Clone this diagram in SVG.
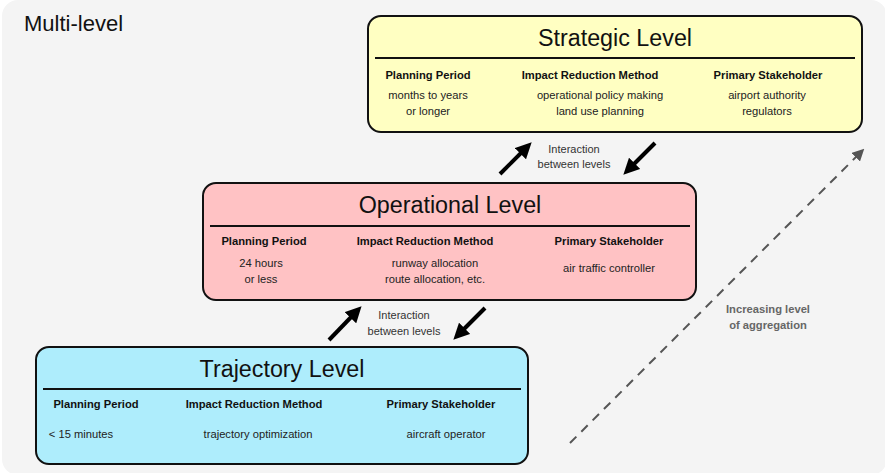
<svg xmlns="http://www.w3.org/2000/svg" width="885" height="473" viewBox="0 0 885 473">
<defs>
<style>
text{font-family:"Liberation Sans",Arial,sans-serif;fill:#111;text-anchor:middle}
.box{stroke:#111;stroke-width:2}
.title{font-size:23.3px}
.hd{font-size:11.2px;font-weight:bold}
.val{font-size:11.2px;fill:#222}
.sm{font-size:11px;fill:#333}
.sep{stroke:#111;stroke-width:2}
.arr{stroke:#000;stroke-width:4;fill:none;marker-end:url(#ah)}
</style>
<marker id="ah" markerWidth="4" markerHeight="4" refX="2" refY="2" orient="auto" markerUnits="strokeWidth" viewBox="0 0 4 4">
<path d="M0,0 L4,2 L0,4 z" fill="#000"/>
</marker>
<marker id="ahd" markerWidth="6" markerHeight="6" refX="3" refY="3" orient="auto" markerUnits="strokeWidth" viewBox="0 0 6 6">
<path d="M0,0 L6,3 L0,6 z" fill="#555"/>
</marker>
</defs>
<rect x="2" y="0" width="885" height="475" rx="16" fill="#f4f4f4"/>
<text x="24" y="31" style="font-size:22px;text-anchor:start">Multi-level</text>

<g id="strategic">
<rect class="box" x="368" y="16" width="494" height="116" rx="13" fill="#ffffc2"/>
<text class="title" x="615" y="46">Strategic Level</text>
<line class="sep" x1="375" y1="58" x2="855" y2="58"/>
<text class="hd" x="428" y="79">Planning Period</text>
<text class="hd" x="590" y="79">Impact Reduction Method</text>
<text class="hd" x="768" y="79">Primary Stakeholder</text>
<text class="val" x="428" y="99">months to years</text>
<text class="val" x="428" y="115">or longer</text>
<text class="val" x="600" y="99">operational policy making</text>
<text class="val" x="600" y="115">land use planning</text>
<text class="val" x="767" y="99">airport authority</text>
<text class="val" x="767" y="115">regulators</text>
</g>

<g id="operational">
<rect class="box" x="203" y="183" width="493" height="117" rx="13" fill="#ffc2c4"/>
<text class="title" x="450" y="213">Operational Level</text>
<line class="sep" x1="210" y1="226" x2="690" y2="226"/>
<text class="hd" x="264" y="245">Planning Period</text>
<text class="hd" x="425" y="245">Impact Reduction Method</text>
<text class="hd" x="609" y="245">Primary Stakeholder</text>
<text class="val" x="261" y="267">24 hours</text>
<text class="val" x="261" y="283">or less</text>
<text class="val" x="435" y="267">runway allocation</text>
<text class="val" x="435" y="283">route allocation, etc.</text>
<text class="val" x="609" y="272">air traffic controller</text>
</g>

<g id="trajectory">
<rect class="box" x="36" y="347" width="492" height="117" rx="13" fill="#aeedfc"/>
<text class="title" x="282" y="377">Trajectory Level</text>
<line class="sep" x1="43" y1="389" x2="521" y2="389"/>
<text class="hd" x="96" y="408">Planning Period</text>
<text class="hd" x="254" y="408">Impact Reduction Method</text>
<text class="hd" x="441" y="408">Primary Stakeholder</text>
<text class="val" x="81" y="438">&lt; 15 minutes</text>
<text class="val" x="258" y="438">trajectory optimization</text>
<text class="val" x="446" y="438">aircraft operator</text>
</g>

<g id="connectors">
<line class="arr" x1="500" y1="174" x2="526" y2="148"/>
<line class="arr" x1="655" y1="143" x2="629" y2="169"/>
<line class="arr" x1="329" y1="340" x2="356" y2="312"/>
<line class="arr" x1="485" y1="308" x2="459" y2="334"/>
<line x1="570" y1="443" x2="860" y2="153" stroke="#555" stroke-width="2" stroke-dasharray="9,7" marker-end="url(#ahd)"/>
</g>

<g id="labels">
<text class="sm" x="574" y="153">Interaction</text>
<text class="sm" x="574" y="168">between levels</text>
<text class="sm" x="404" y="319">Interaction</text>
<text class="sm" x="404" y="335">between levels</text>
<text x="768" y="313" style="font-size:11.2px;font-weight:bold;fill:#666">Increasing level</text>
<text x="768" y="329" style="font-size:11.2px;font-weight:bold;fill:#666">of aggregation</text>
</g>
</svg>
